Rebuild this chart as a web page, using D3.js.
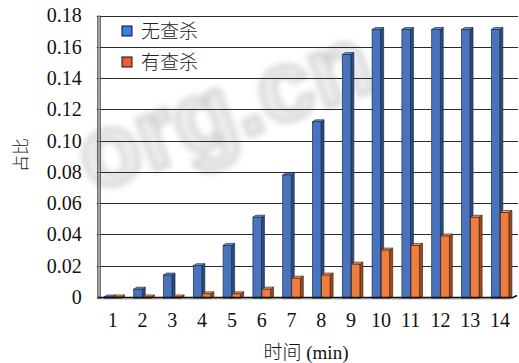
<!DOCTYPE html>
<html>
<head>
<meta charset="utf-8">
<script src="https://cdn.jsdelivr.net/npm/d3@7"></script>
<style>
  html, body { margin: 0; padding: 0; background: #fff; }
  svg { display: block; }
</style>
</head>
<body>
<svg id="chart" width="519" height="363"></svg>
<script>
// Share of samples per minute, without and with antivirus scanning
const categories = ["1","2","3","4","5","6","7","8","9","10","11","12","13","14"];
const seriesNames = ["无查杀", "有查杀"];
const noScan   = [0.0, 0.005, 0.014, 0.020, 0.033, 0.051, 0.078, 0.112, 0.155, 0.171, 0.171, 0.171, 0.171, 0.171];
const withScan = [0.0, 0.0, 0.0, 0.002, 0.002, 0.005, 0.012, 0.014, 0.021, 0.030, 0.033, 0.039, 0.051, 0.054];
const yTicks = [0, 0.02, 0.04, 0.06, 0.08, 0.10, 0.12, 0.14, 0.16, 0.18];
const yTickLabels = ["0", "0.02", "0.04", "0.06", "0.08", "0.10", "0.12", "0.14", "0.16", "0.18"];
const xTitle = "时间 (min)";
const yTitle = "占比";

const seriesValues = [noScan, withScan];
const palette = [
  { front: "#4a73bd", side: "#2c4a80", top: "#6f93d6", stroke: "#1c2c4c", key: "#3d7cf0" },
  { front: "#ec7f40", side: "#9c4b1f", top: "#f2a470", stroke: "#4a2410", key: "#e8602e" }
];

const svg = d3.select("#chart");
const plotLeft = 97.8, plotRight = 515, plotTop = 15.5, floorY = 297;
const depthX = 3, depthY = 2;
const serif = "'Liberation Serif', 'Times New Roman', 'Noto Sans CJK SC', serif";

const x = d3.scaleBand().domain(categories).range([plotLeft, plotRight])
  .paddingInner(0.41).paddingOuter(0.205);
const xs = d3.scaleBand().domain(seriesNames).range([0, x.bandwidth()]).paddingInner(0.06);
const y = d3.scaleLinear().domain([0, 0.18]).range([floorY, plotTop]);

// faint site watermark behind the plot
const defs = svg.append("defs");
defs.append("filter").attr("id", "wmBlur")
  .append("feGaussianBlur").attr("stdDeviation", 3);
svg.append("g")
  .attr("transform", "translate(226,115) rotate(-20)")
  .append("text")
  .attr("text-anchor", "middle")
  .attr("dy", "0.27em")
  .attr("font-family", "'Liberation Sans', Arial, sans-serif")
  .attr("font-weight", "bold")
  .attr("font-size", 100)
  .attr("fill", "#e2e2e2")
  .attr("stroke", "#a0a0a0")
  .attr("stroke-width", 4)
  .attr("opacity", 0.55)
  .attr("filter", "url(#wmBlur)")
  .text("org.cn");

// horizontal gridlines on the back wall
svg.append("g").selectAll("line")
  .data(yTicks.filter(d => d > 0))
  .join("line")
  .attr("x1", plotLeft - 1).attr("x2", 518)
  .attr("y1", d => Math.round(y(d)) + 0.5).attr("y2", d => Math.round(y(d)) + 0.5)
  .attr("stroke", "#2a2a2a").attr("stroke-width", 1);

// left wall
svg.append("line").attr("x1", plotLeft).attr("x2", plotLeft).attr("y1", plotTop).attr("y2", floorY + 2)
  .attr("stroke", "#333").attr("stroke-width", 1);
svg.append("line").attr("x1", plotLeft + 2.4).attr("x2", plotLeft + 2.4).attr("y1", plotTop).attr("y2", floorY + 2)
  .attr("stroke", "#333").attr("stroke-width", 1);
svg.append("rect").attr("x", plotLeft + 0.5).attr("y", plotTop).attr("width", 1.5).attr("height", floorY - plotTop)
  .attr("fill", "#9a9a9a");

// 3D bars
const bars = [];
categories.forEach((c, i) => {
  seriesNames.forEach((s, k) => {
    bars.push({ c, s, k, v: seriesValues[k][i] });
  });
});

const barG = svg.append("g").selectAll("g").data(bars).join("g");
barG.each(function(d) {
  const g = d3.select(this);
  const bx = x(d.c) + xs(d.s), bw = xs.bandwidth();
  const by = y(d.v), b0 = y(0) + 1.5;
  const col = palette[d.k];
  // side face
  g.append("path")
    .attr("d", `M${bx + bw},${by} L${bx + bw + depthX},${by - depthY} L${bx + bw + depthX},${b0 - depthY} L${bx + bw},${b0} Z`)
    .attr("fill", col.side).attr("stroke", col.stroke).attr("stroke-width", 0.7);
  // top face
  g.append("path")
    .attr("d", `M${bx},${by} L${bx + depthX},${by - depthY} L${bx + bw + depthX},${by - depthY} L${bx + bw},${by} Z`)
    .attr("fill", col.top).attr("stroke", col.stroke).attr("stroke-width", 0.7);
  // front face
  g.append("rect")
    .attr("x", bx).attr("y", by).attr("width", bw).attr("height", Math.max(0, b0 - by))
    .attr("fill", col.front).attr("stroke", col.stroke).attr("stroke-width", 0.7);
});

// floor edge
svg.append("rect").attr("x", plotLeft).attr("y", floorY).attr("width", 513 - plotLeft).attr("height", 2.5)
  .attr("fill", "#8c8c8c").attr("opacity", 0.6);
svg.append("path")
  .attr("d", `M${plotLeft},${floorY + 0.5} L513,${floorY + 0.5} L517,${floorY - 1.5}`)
  .attr("fill", "none").attr("stroke", "#111").attr("stroke-width", 1.6);

// y axis labels
const yAxis = d3.axisLeft(y).tickValues(yTicks)
  .tickFormat((d, i) => yTickLabels[i]).tickSize(0).tickPadding(16);
const yg = svg.append("g").attr("transform", `translate(${plotLeft},0)`).call(yAxis);
yg.select(".domain").remove();
yg.selectAll("text").attr("font-family", serif).attr("font-size", 20).attr("fill", "#111");

// x axis labels
const xAxis = d3.axisBottom(x).tickSize(0).tickPadding(15.3);
const xg = svg.append("g").attr("transform", `translate(0,${floorY})`).call(xAxis);
xg.select(".domain").remove();
xg.selectAll("text").attr("font-family", serif).attr("font-size", 20).attr("fill", "#111");

// axis titles
svg.append("text")
  .attr("x", 306).attr("y", 359)
  .attr("text-anchor", "middle")
  .attr("font-family", serif).attr("font-size", 19).attr("font-weight", 300).attr("fill", "#111")
  .text(xTitle);
svg.append("text")
  .attr("transform", "translate(27,155) rotate(-90)")
  .attr("text-anchor", "middle")
  .attr("font-family", serif).attr("font-size", 17).attr("font-weight", 300).attr("fill", "#222")
  .text(yTitle);

// legend
const legend = svg.append("g").selectAll("g").data(seriesNames).join("g")
  .attr("transform", (d, i) => `translate(122,${26 + i * 31})`);
legend.append("rect")
  .attr("width", 10).attr("height", 10)
  .attr("fill", (d, i) => palette[i].key)
  .attr("stroke", "#111").attr("stroke-width", 1);
legend.append("text")
  .attr("x", 19).attr("y", 5).attr("dy", "0.36em")
  .attr("font-family", serif).attr("font-size", 19).attr("font-weight", 300).attr("fill", "#222")
  .text(d => d);
</script>
</body>
</html>
